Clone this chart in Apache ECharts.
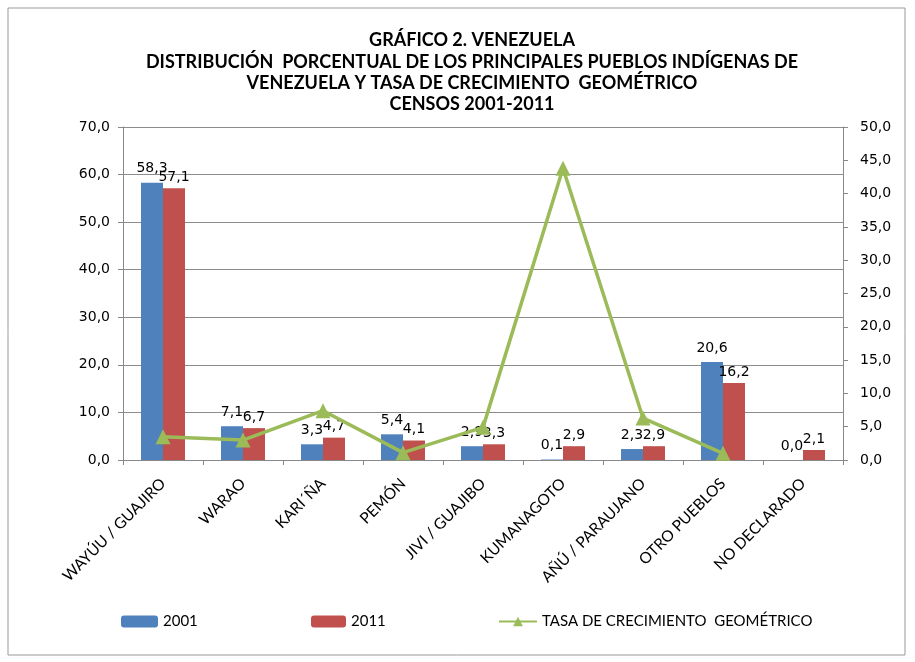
<!DOCTYPE html>
<html>
<head>
<meta charset="utf-8">
<script src="https://cdn.jsdelivr.net/npm/echarts@6/dist/echarts.min.js"></script>
<style>
  html, body { margin: 0; padding: 0; background: #fff; }
  #main { width: 915px; height: 662px; }
</style>
</head>
<body>
<div id="main"></div>
<script>
// datos
var pueblos = ["WAYÚU / GUAJIRO", "WARAO", "KARI´ÑA", "PEMÓN", "JIVI / GUAJIBO",
  "KUMANAGOTO", "AÑÚ / PARAUJANO", "OTRO PUEBLOS", "NO DECLARADO"];
var censo2001 = [58.3, 7.1, 3.3, 5.4, 2.9, 0.1, 2.3, 20.6, 0.0];
var censo2011 = [57.1, 6.7, 4.7, 4.1, 3.3, 2.9, 2.9, 16.2, 2.1];
var tasa = [3.5, 3.0, 7.4, 1.1, 4.9, 43.8, 6.3, 1.0, null];
var ticksIzq = [0, 70, 10];
var ticksDer = [0, 50, 5];

var fuente = "Lato";
var fuenteNum = "DejaVu Sans";
var coma = function (v) { return Number(v).toFixed(1).replace(".", ","); };

var myChart = echarts.init(document.getElementById("main"));
var leyendaTxt = { fontSize: 15, fontFamily: fuente, color: "#000" };
var option = {
  animation: false,
  textStyle: { fontFamily: fuente, color: "#000" },
  title: {
    text: "GRÁFICO 2. VENEZUELA\nDISTRIBUCIÓN  PORCENTUAL DE LOS PRINCIPALES PUEBLOS INDÍGENAS DE\nVENEZUELA Y TASA DE CRECIMIENTO  GEOMÉTRICO\nCENSOS 2001-2011",
    left: 467,
    top: 25,
    textAlign: "center",
    textStyle: { fontFamily: fuente, fontSize: 18, fontWeight: "bold", lineHeight: 21.3, color: "#000" }
  },
  graphic: [{
    type: "rect",
    shape: { x: 8, y: 8, width: 897, height: 647 },
    style: { fill: "none", stroke: "#999", lineWidth: 1 }
  }],
  legend: [
    { data: ["2001"], left: 116, top: 609, itemWidth: 37, itemHeight: 12, itemGap: 3, textStyle: leyendaTxt },
    { data: ["2011"], left: 306, top: 609, itemWidth: 35, itemHeight: 12, textStyle: leyendaTxt },
    { data: ["TASA DE CRECIMIENTO  GEOMÉTRICO"], left: 493, top: 609, itemWidth: 38, itemHeight: 12, textStyle: leyendaTxt }
  ],
  grid: { left: 123, right: 72, top: 127, bottom: 202 },
  xAxis: {
    type: "category",
    data: pueblos,
    axisLine: { lineStyle: { color: "#888" } },
    axisTick: { show: true, lineStyle: { color: "#888" }, length: 5 },
    axisLabel: { rotate: 45, fontSize: 15.5, color: "#000", margin: 21, fontFamily: fuente }
  },
  yAxis: [{
    type: "value",
    min: ticksIzq[0], max: ticksIzq[1], interval: ticksIzq[2],
    axisLine: { show: true, lineStyle: { color: "#888" } },
    axisTick: { show: true, lineStyle: { color: "#888" }, length: 5 },
    splitLine: { lineStyle: { color: "#8c8c8c" } },
    axisLabel: { formatter: coma, fontSize: 14, color: "#000", margin: 13, fontFamily: fuenteNum }
  }, {
    type: "value",
    min: ticksDer[0], max: ticksDer[1], interval: ticksDer[2],
    position: "right",
    axisLine: { show: true, lineStyle: { color: "#888" } },
    axisTick: { show: true, lineStyle: { color: "#888" }, length: 5 },
    splitLine: { show: false },
    axisLabel: { formatter: coma, fontSize: 14, color: "#000", margin: 17, fontFamily: fuenteNum }
  }],
  series: [{
    name: "2001",
    type: "bar",
    data: censo2001,
    barWidth: 22,
    barGap: "0%",
    itemStyle: { color: "#4F81BD" },
    label: { show: true, position: "top", distance: 7, formatter: function (p) { return coma(p.value); }, fontSize: 14, color: "#000", fontFamily: fuenteNum }
  }, {
    name: "2011",
    type: "bar",
    data: censo2011,
    barWidth: 22,
    barGap: "0%",
    itemStyle: { color: "#C0504D" },
    label: { show: true, position: "top", distance: 4, formatter: function (p) { return coma(p.value); }, fontSize: 14, color: "#000", fontFamily: fuenteNum }
  }, {
    name: "TASA DE CRECIMIENTO  GEOMÉTRICO",
    type: "line",
    yAxisIndex: 1,
    data: tasa,
    symbol: "triangle",
    symbolSize: 15,
    lineStyle: { color: "#9BBB59", width: 3.5 },
    itemStyle: { color: "#9BBB59" }
  }]
};
option && myChart.setOption(option);
</script>
</body>
</html>
